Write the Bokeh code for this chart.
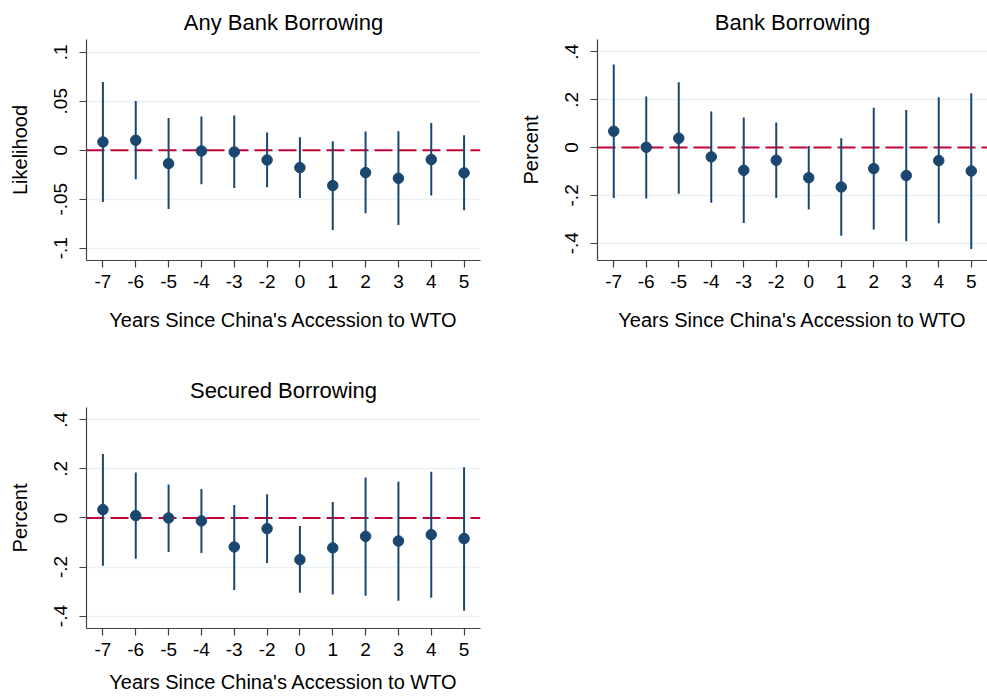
from bokeh.plotting import figure
from bokeh.layouts import column, row
from bokeh.models import FactorRange, Range1d, FixedTicker, CustomJSTickFormatter, Span
from bokeh.embed import file_html
from bokeh.resources import INLINE

years = ["-7", "-6", "-5", "-4", "-3", "-2", "0", "1", "2", "3", "4", "5"]

# Any Bank Borrowing (likelihood)
any_est = [0.0085, 0.0102, -0.0136, -0.0007, -0.0017, -0.0099, -0.0177, -0.0360, -0.0228, -0.0286, -0.0095, -0.0231]
any_lo = [-0.0527, -0.0296, -0.0600, -0.0347, -0.0384, -0.0378, -0.0486, -0.0813, -0.0643, -0.0762, -0.0463, -0.0612]
any_hi = [0.0697, 0.0503, 0.0330, 0.0344, 0.0354, 0.0180, 0.0133, 0.0092, 0.0190, 0.0194, 0.0279, 0.0153]

# Bank Borrowing (percent)
bank_est = [0.0685, 0.0014, 0.0390, -0.0390, -0.0950, -0.0530, -0.1260, -0.1650, -0.0880, -0.1170, -0.0545, -0.0980]
bank_lo = [-0.211, -0.213, -0.193, -0.231, -0.316, -0.211, -0.259, -0.369, -0.343, -0.392, -0.317, -0.424]
bank_hi = [0.347, 0.214, 0.273, 0.151, 0.126, 0.105, 0.007, 0.039, 0.166, 0.157, 0.210, 0.227]

# Secured Borrowing (percent)
sec_est = [0.034, 0.0095, 0.000, -0.012, -0.118, -0.0435, -0.170, -0.122, -0.075, -0.094, -0.068, -0.084]
sec_lo = [-0.195, -0.166, -0.139, -0.143, -0.294, -0.184, -0.305, -0.312, -0.317, -0.337, -0.325, -0.378]
sec_hi = [0.261, 0.185, 0.136, 0.118, 0.053, 0.0966, -0.0327, 0.065, 0.165, 0.147, 0.188, 0.207]

any_ticks = [-0.1, -0.05, 0, 0.05, 0.1]
pct_ticks = [-0.4, -0.2, 0, 0.2, 0.4]

XLABEL = "Years Since China's Accession to WTO"
FONT = "Liberation Sans"
NAVY = "#1a476f"
RED = "#c10534"
AXIS = "#404040"
GRID = "#eaf2f3"


def make_panel(title, ylabel, est, lo, hi, y0, y1, ticks, width, height,
               bl, br, bt, bb, xlab_standoff=18):
    p = figure(x_range=FactorRange(*years, range_padding=0),
               y_range=Range1d(y0, y1),
               width=width, height=height, output_backend="svg",
               toolbar_location=None, title=title,
               min_border_left=bl, min_border_right=br,
               min_border_top=bt, min_border_bottom=bb)
    p.outline_line_color = None
    p.background_fill_color = "white"
    p.border_fill_color = "white"
    p.title.align = "center"
    p.title.text_font = FONT
    p.title.text_font_size = "22px"
    p.title.text_font_style = "normal"
    p.title.text_color = "black"
    p.title.standoff = 9

    p.xgrid.visible = False
    p.ygrid.grid_line_color = GRID
    p.ygrid.grid_line_width = 1.5

    for ax in (p.xaxis[0], p.yaxis[0]):
        ax.axis_line_color = AXIS
        ax.axis_line_width = 1.2
        ax.major_tick_line_color = AXIS
        ax.major_tick_line_width = 1.2
        ax.major_tick_out = 7
        ax.major_tick_in = 0
        ax.minor_tick_line_color = None
        ax.major_label_text_font = FONT
        ax.major_label_text_font_size = "19px"
        ax.major_label_text_color = "black"
        ax.axis_label_text_font = FONT
        ax.axis_label_text_font_size = "20px"
        ax.axis_label_text_font_style = "normal"
        ax.axis_label_text_color = "black"

    p.xaxis.axis_label = XLABEL
    p.xaxis.major_label_standoff = 7
    p.xaxis.axis_label_standoff = xlab_standoff

    p.yaxis.axis_label = ylabel
    p.yaxis.ticker = FixedTicker(ticks=ticks)
    p.yaxis.formatter = CustomJSTickFormatter(code="return tick.toString().replace('0.', '.');")
    p.yaxis.major_label_orientation = "vertical"
    p.yaxis.major_label_standoff = 12
    p.yaxis.axis_label_standoff = 21

    zero = Span(location=0, dimension="width", line_color=RED, line_width=2,
                line_dash="18 6", level="underlay")
    p.add_layout(zero)

    p.segment(x0=years, y0=lo, x1=years, y1=hi, line_color=NAVY, line_width=2)
    p.scatter(x=years, y=est, size=10.5, fill_color=NAVY, line_color=NAVY)
    return p


p1 = make_panel("Any Bank Borrowing", "Likelihood", any_est, any_lo, any_hi,
                -0.1125, 0.113, any_ticks, 490, 368, 86, 10, 39, 108)
p2 = make_panel("Bank Borrowing", "Percent", bank_est, bank_lo, bank_hi,
                -0.4725, 0.452, pct_ticks, 497, 368, 107, 0, 39, 108)
p3 = make_panel("Secured Borrowing", "Percent", sec_est, sec_lo, sec_hi,
                -0.4505, 0.45, pct_ticks, 490, 329, 86, 10, 39, 69, xlab_standoff=12)

layout = column(row(p1, p2), p3)

open("out.html", "w").write(file_html(layout, INLINE))
